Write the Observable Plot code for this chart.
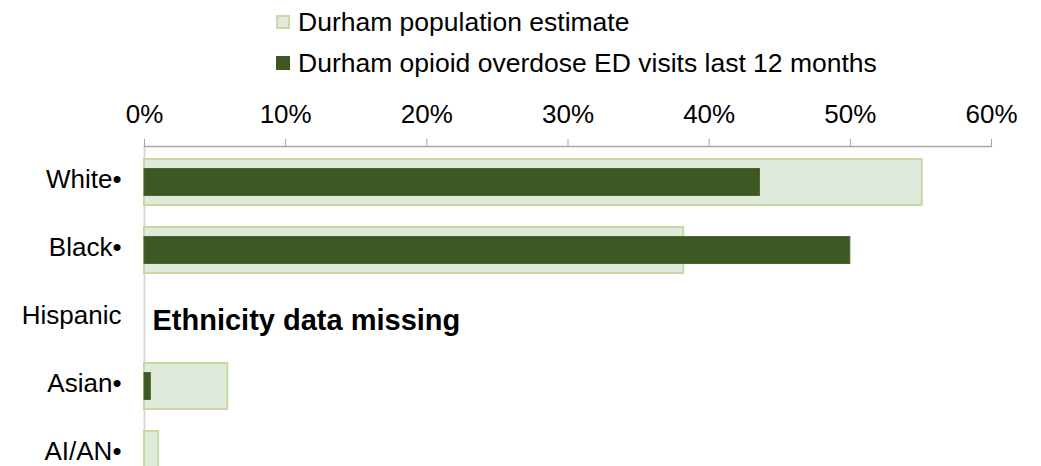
<!DOCTYPE html>
<html>
<head>
<meta charset="utf-8">
<script src="https://cdn.jsdelivr.net/npm/d3@7"></script>
<script src="https://cdn.jsdelivr.net/npm/@observablehq/plot@0.6"></script>
<style>
  html, body { margin: 0; padding: 0; background: #fff; overflow: hidden; }
  body { font-family: "Liberation Sans", Arial, sans-serif; width: 1041px; }
  #legend { position: relative; height: 88px; width: 1041px; }
  .lg-row { position: absolute; left: 276px; display: flex; align-items: center; font-size: 26.5px; color: #000; white-space: nowrap; }
  .sw { width: 14px; height: 14px; box-sizing: border-box; margin-right: 8px; }
</style>
</head>
<body>
<div id="legend"></div>
<div id="chart"></div>
<script>
const categories = ["White", "Black", "Hispanic", "Asian", "AI/AN"];
const categoryLabels = ["White•", "Black•", "Hispanic", "Asian•", "AI/AN•"];
const populationPct = [55.1, 38.2, null, 5.9, 1.0];
const edVisitsPct = [43.6, 50.0, null, 0.45, 0];
const seriesNames = ["Durham population estimate", "Durham opioid overdose ED visits last 12 months"];
const xTicks = [0, 0.1, 0.2, 0.3, 0.4, 0.5, 0.6];
const annotations = [{cat: "Hispanic", x: 0, label: "Ethnicity data missing"}];

const lightFill = "#e0eadc", lightStroke = "#c6daa4", darkFill = "#3d5822";

// legend
const legend = document.getElementById("legend");
const swatchStyles = [
  `background:${lightFill};border:2px solid ${lightStroke};`,
  `background:${darkFill};`
];
const rowTops = [22, 63];
seriesNames.forEach((name, i) => {
  const row = document.createElement("div");
  row.className = "lg-row";
  row.style.top = (rowTops[i] - 15) + "px";
  row.style.height = "30px";
  row.innerHTML = `<div class="sw" style="${swatchStyles[i]}"></div><span>${name}</span>`;
  legend.appendChild(row);
});

const pop = categories.map((c, i) => ({cat: c, v: populationPct[i] == null ? null : populationPct[i] / 100})).filter(d => d.v != null);
const ed = categories.map((c, i) => ({cat: c, v: edVisitsPct[i] == null ? null : edVisitsPct[i] / 100})).filter(d => d.v != null && d.v > 0);
const labelOf = Object.fromEntries(categories.map((c, i) => [c, categoryLabels[i]]));

const chart = Plot.plot({
  width: 1041,
  height: 401,
  marginTop: 58,
  marginBottom: 0,
  marginLeft: 144,
  marginRight: 50,
  style: {fontFamily: "'Liberation Sans', Arial, sans-serif", fontSize: "26px", color: "#000", background: "#fff"},
  x: {domain: [0, 0.6]},
  y: {domain: categories, paddingInner: 0.33, paddingOuter: 0.165},
  marks: [
    Plot.ruleX([0], {stroke: "#d9d9d9", strokeWidth: 2}),
    Plot.barX(pop, {x: "v", y: "cat", fill: lightFill, stroke: lightStroke, strokeWidth: 2}),
    Plot.barX(ed, {x: "v", y: "cat", fill: darkFill, stroke: "#4d6634", strokeWidth: 1, insetTop: 9.5, insetBottom: 9.5}),
    Plot.frame({anchor: "top", stroke: "#a6a6a6", strokeWidth: 1.5}),
    Plot.axisX({anchor: "top", ticks: xTicks, tickFormat: d3.format(".0%"), tickSize: 8, tickPadding: 16, stroke: "#a6a6a6", fill: "#000", label: null}),
    Plot.axisY({anchor: "left", tickSize: 0, tickPadding: 23, dy: -2.5, tickFormat: d => labelOf[d], fill: "#000", label: null}),
    Plot.text(annotations, {x: "x", y: "cat", text: "label", textAnchor: "start", dx: 8, dy: 2, fontWeight: "bold", fontSize: 29, fill: "#000"})
  ]
});
document.getElementById("chart").appendChild(chart);
</script>
</body>
</html>
